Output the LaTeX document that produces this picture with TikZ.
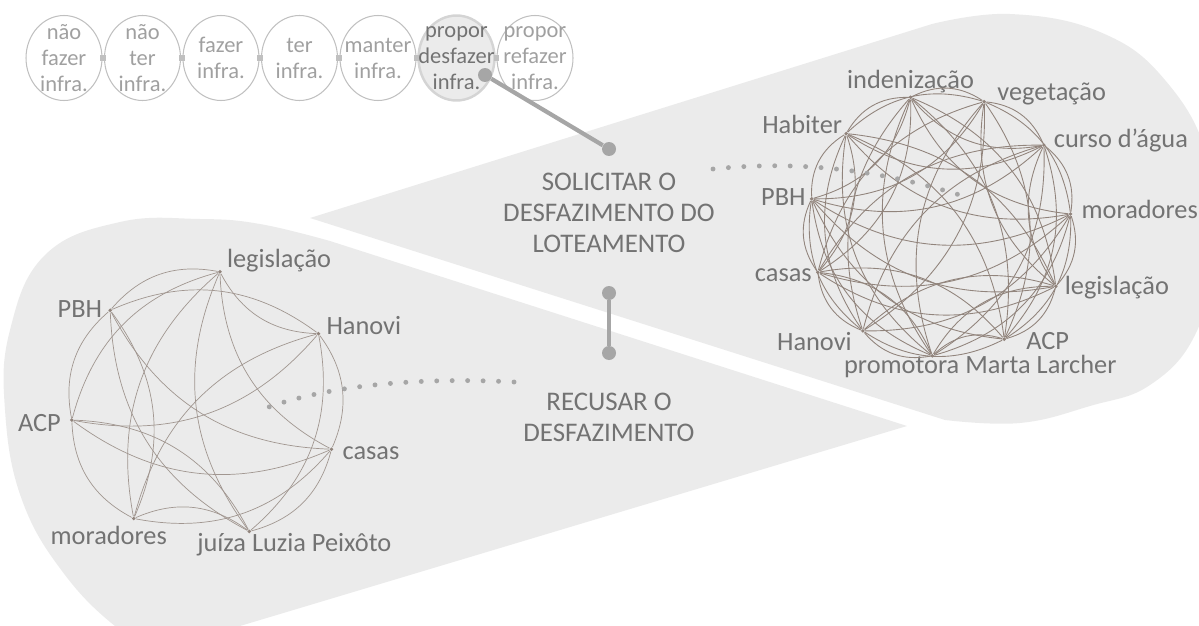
\documentclass[tikz,border=0pt]{standalone}
\usepackage{fontspec}
\setmainfont{Carlito}
\usetikzlibrary{shapes.geometric}

\definecolor{blobgray}{RGB}{235,235,235}
\definecolor{dotgray}{RGB}{166,166,166}
\definecolor{labgray}{RGB}{115,115,115}
\definecolor{edgebrown}{RGB}{145,132,124}
\definecolor{ringgray}{RGB}{192,192,192}
\definecolor{softgray}{RGB}{160,160,160}

\tikzset{
  stage/.style={ellipse, draw=ringgray, line width=0.6pt, minimum width=1.52cm, minimum height=1.7cm, inner sep=0pt},
  chosen/.style={stage, fill=blobgray, draw=black!17, line width=1.4pt},
  stagetext/.style={align=center, inner sep=0pt, text=softgray, font=\fontsize{12.8}{14.8}\selectfont},
  chosentext/.style={stagetext, text=labgray},
  seam/.style={draw=ringgray, line width=3.2pt, shorten <=-1.2pt, shorten >=-1.2pt},
  knob/.style={circle, fill=dotgray, minimum size=0.28cm, inner sep=0pt},
  bar/.style={draw=dotgray, line width=2.4pt},
  dotline/.style={dotgray, line width=2.8pt, line cap=round, dash pattern=on 0pt off 8.8pt},
  caps/.style={align=center, text=labgray, font=\fontsize{15.3}{17.6}\selectfont},
  actor/.style={circle, fill=edgebrown, minimum size=2.2pt, inner sep=0pt},
  who/.style={text=labgray, font=\fontsize{15}{17}\selectfont, inner sep=1pt},
  tie/.style={edgebrown, line width=0.5pt},
  thintie/.style={edgebrown!85, line width=0.4pt},
  bl/.style={bend left=30},
  br/.style={bend right=30}
}

\begin{document}
\begin{tikzpicture}[x=0.02cm, y=-0.02cm]
\useasboundingbox (0,0) rectangle (1199,625);
\clip (0,0) rectangle (1199,625);

% the two grey drops
\fill[blobgray] (310,218) -- plot[smooth, tension=0.7] coordinates {(932,24) (1010,14) (1100,32) (1165,80) (1208,160) (1212,260) (1195,335) (1150,385) (1090,406) (1020,423) (945,420)} -- cycle;
\fill[blobgray] (907,426) -- plot[smooth, tension=0.7] coordinates {(330,241) (260,224) (200,219) (120,222) (45,255) (10,330) (5,410) (22,500) (65,575) (120,630) (160,650)} -- cycle;

% chain of stages
\foreach \t/\s [count=\i] in {{não\\fazer\\infra.}/stage, {não\\ter\\infra.}/stage, {fazer\\infra.}/stage, {ter\\infra.}/stage, {manter\\infra.}/stage, {propor\\desfazer\\infra.}/chosen, {propor\\refazer\\infra.}/stage} {
  \node[\s] (c\i) at ({64+78.5*(\i-1)},58) {};
  \node[\s text] (t\i) at (c\i) {\t};
}
\foreach \i [evaluate=\i as \j using int(\i+1)] in {1,...,6}
  \draw[seam] (c\i.east) -- (c\j.west);

\node[knob] (k0) at (485,75) {};
\node[knob] (k1) at (609,149) {};
\draw[bar] (k0) -- (k1);
\node[caps] (ask) at (609,213) {SOLICITAR O\\DESFAZIMENTO DO\\LOTEAMENTO};
\node[knob] (k2) at (609,293) {};
\node[knob] (k3) at (609,353) {};
\draw[bar] (k2) -- (k3);
\node[caps] (refuse) at (609,417) {RECUSAR O\\DESFAZIMENTO};

% network of the request
\foreach \lab/\anc/\dx/\dy [count=\i from 0] in {indenização/south/0/-2, vegetação/base west/11/-1, curso d’água/base west/8/2, moradores/base west/9/5, legislação/base west/7/8, ACP/base west/20/10, promotora Marta Larcher/base/48/18, Hanovi/base east/-9/20, casas/base east/-4/9, PBH/base east/-4/7, Habiter/base east/-2/0} {
  \node[actor] (u\i) at ({940+131*cos(103-32.727*\i)},{225-131*sin(103-32.727*\i)}) {};
  \node[who, anchor=\anc] (ul\i) at ([shift={(\dx,\dy)}]u\i) {\lab};
}
\foreach \i in {0,...,9} {
  \pgfmathtruncatemacro\s{\i+1}
  \foreach \j in {\s,...,10} {
    \pgfmathtruncatemacro\d{\j-\i}
    \pgfmathtruncatemacro\h{mod(7*\i+13*\j+\i*\j,4)}
    \ifnum\d=1 \def\side{bl}\else\ifnum\d=10 \def\side{br}\else
      \ifnum\h<2 \def\side{bl}\else\def\side{br}\fi\fi\fi
    \ifnum\i=5 \ifnum\j=6 \def\side{br}\fi\fi
    \draw[tie] (u\i) to[\side] (u\j);
  }
}

% network of the refusal
\foreach \lab/\anc/\dx/\dy [count=\i from 0] in {legislação/base west/5/-4, Hanovi/base west/6/1, casas/base west/9/10, juíza Luzia Peixôto/base/45/20, moradores/base/-25/26, ACP/base east/-9/11, PBH/base east/-6/7} {
  \node[actor] (v\i) at ({205+134*cos(83.6-51.43*\i)},{405-134*sin(83.6-51.43*\i)}) {};
  \node[who, anchor=\anc] (vl\i) at ([shift={(\dx,\dy)}]v\i) {\lab};
}
\foreach \a/\b/\s in {6/0/bl, 6/1/bl, 2/6/bl, 3/6/bl, 4/6/br, 5/6/bl, 0/1/br, 0/2/br, 0/3/br, 0/4/br, 0/5/br, 1/2/bl, 1/3/bl, 1/4/br, 1/5/bl, 2/3/bl, 2/4/bl, 2/5/bl, 3/4/br, 3/5/br, 4/5/bl}
  \draw[thintie] (v\a) to[\s] (v\b);

\coordinate (p1) at (713,169);
\coordinate (p2) at (963,196);
\draw[dotline] (p1) .. controls (800,160) and (880,170) .. (p2);
\coordinate (q1) at (514,382);
\coordinate (q2) at (266,408);
\draw[dotline] (q1) .. controls (420,377) and (330,385) .. (q2);
\end{tikzpicture}
\end{document}
